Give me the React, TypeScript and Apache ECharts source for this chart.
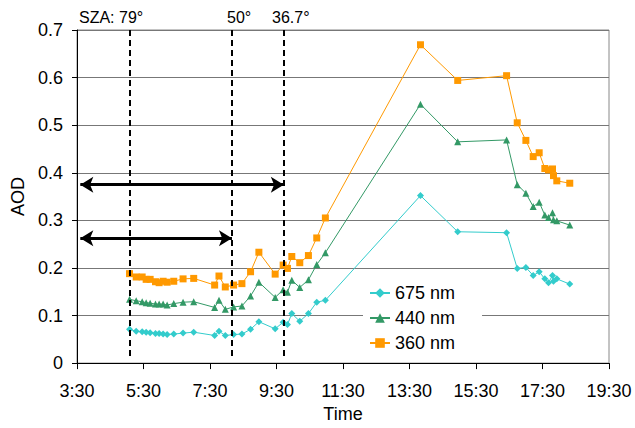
import React, { useEffect, useRef } from "react";
import * as echarts from "echarts";

// Time of day in decimal hours
const TIMES = [5.08, 5.28, 5.46, 5.58, 5.70, 5.86, 5.97, 6.09, 6.21, 6.41, 6.69, 7.01, 7.64, 7.77, 7.96, 8.21, 8.46, 8.72, 8.97, 9.46, 9.70, 9.83, 9.96, 10.20, 10.46, 10.71, 10.97, 13.83, 14.95, 16.42, 16.74, 17.00, 17.22, 17.40, 17.57, 17.68, 17.80, 17.83, 17.93, 18.32];

const AOD_675 = [0.071, 0.067, 0.066, 0.065, 0.064, 0.062, 0.062, 0.061, 0.060, 0.061, 0.063, 0.065, 0.058, 0.067, 0.058, 0.060, 0.061, 0.071, 0.087, 0.072, 0.086, 0.081, 0.104, 0.088, 0.104, 0.128, 0.132, 0.352, 0.276, 0.274, 0.199, 0.201, 0.184, 0.192, 0.177, 0.169, 0.184, 0.172, 0.177, 0.166];
const AOD_440 = [0.134, 0.131, 0.129, 0.127, 0.126, 0.124, 0.124, 0.124, 0.122, 0.125, 0.128, 0.129, 0.117, 0.132, 0.113, 0.118, 0.120, 0.141, 0.170, 0.138, 0.154, 0.149, 0.174, 0.159, 0.175, 0.207, 0.232, 0.544, 0.465, 0.469, 0.375, 0.357, 0.329, 0.338, 0.311, 0.306, 0.316, 0.301, 0.299, 0.290];
const AOD_360 = [0.188, 0.181, 0.181, 0.176, 0.176, 0.171, 0.169, 0.172, 0.170, 0.172, 0.177, 0.178, 0.164, 0.183, 0.160, 0.164, 0.167, 0.192, 0.233, 0.187, 0.206, 0.199, 0.224, 0.211, 0.226, 0.263, 0.305, 0.669, 0.594, 0.604, 0.505, 0.468, 0.434, 0.442, 0.409, 0.406, 0.408, 0.394, 0.383, 0.378];

const SERIES_NAMES = ["675 nm", "440 nm", "360 nm"];

// Solar zenith angle markers
const SZA_TIMES = [5.08, 8.16, 9.72];
const SZA_LABELS = ["SZA: 79°", "50°", "36.7°"];

// Arrows: start time, end time, AOD level
const ARROW_START = 3.6;
const ARROW_ENDS = [9.72, 8.16];
const ARROW_LEVELS = [0.375, 0.2625];

const AXIS_START = 3.5; // 3:30
const X_TICKS = ["3:30", "5:30", "7:30", "9:30", "11:30", "13:30", "15:30", "17:30", "19:30"];

const FONT = "Liberation Sans, Arial, sans-serif";

const rel = (t: number) => t - AXIS_START;

export default function App() {
  const ref = useRef<HTMLDivElement>(null);

  useEffect(() => {
    if (!ref.current) return;
    const chart = echarts.init(ref.current, undefined, { renderer: "svg" });

    const pts = (vals: number[]) => TIMES.map((t, i) => [rel(t), vals[i]]);

    const markLineData: any[] = [];
    SZA_TIMES.forEach((t) => {
      markLineData.push([
        { coord: [rel(t), 0.015], symbol: "none", lineStyle: { color: "#000", width: 2, type: [6, 4] } },
        { coord: [rel(t), 0.7], symbol: "none" },
      ]);
    });
    ARROW_ENDS.forEach((t, i) => {
      markLineData.push([
        { coord: [rel(ARROW_START), ARROW_LEVELS[i]], symbol: "arrow", lineStyle: { color: "#000", width: 3, type: "solid" } },
        { coord: [rel(t), ARROW_LEVELS[i]], symbol: "arrow" },
      ]);
    });

    const option: any = {
      animation: false,
      textStyle: { fontFamily: FONT },
      grid: {
        left: 77,
        right: 26,
        top: 30,
        bottom: 62,
        show: true,
        borderColor: "#888",
        borderWidth: 1,
      },
      legend: {
        data: SERIES_NAMES,
        orient: "vertical",
        left: 363,
        top: 279,
        backgroundColor: "#fff",
        padding: [5, 27, 5, 6],
        itemGap: 7,
        itemWidth: 20,
        itemHeight: 12,
        textStyle: { fontSize: 18, color: "#000", fontFamily: FONT, lineHeight: 18 },
      },
      xAxis: {
        type: "value",
        min: 0,
        max: 16,
        interval: 2,
        name: "Time",
        nameLocation: "middle",
        nameGap: 39,
        nameTextStyle: { fontSize: 18, color: "#000", fontFamily: FONT },
        axisLine: { show: true, lineStyle: { color: "#000", width: 1 } },
        axisTick: { show: true, inside: false, length: 6, lineStyle: { color: "#000" } },
        axisLabel: {
          fontSize: 18,
          color: "#000",
          margin: 19,
          fontFamily: FONT,
          formatter: (v: number) => X_TICKS[Math.round(v / 2)] ?? "",
        },
        splitLine: { show: false },
      },
      yAxis: {
        type: "value",
        min: 0,
        max: 0.7,
        interval: 0.1,
        name: "AOD",
        nameLocation: "middle",
        nameGap: 50,
        nameTextStyle: { fontSize: 18, color: "#000", fontFamily: FONT },
        axisLine: { show: true, lineStyle: { color: "#000", width: 1 } },
        axisTick: { show: true, inside: false, length: 5, lineStyle: { color: "#000" } },
        axisLabel: {
          fontSize: 18,
          color: "#000",
          margin: 14,
          fontFamily: FONT,
          formatter: (v: number) => (Math.round(v * 10) / 10).toString(),
        },
        splitLine: { show: true, lineStyle: { color: "#777", width: 1 } },
      },
      graphic: [
        { type: "text", left: 79, top: 9, style: { text: SZA_LABELS[0], fontSize: 16, fill: "#000", fontFamily: FONT } },
        { type: "text", left: 227, top: 9, style: { text: SZA_LABELS[1], fontSize: 16, fill: "#000", fontFamily: FONT } },
        { type: "text", left: 272, top: 9, style: { text: SZA_LABELS[2], fontSize: 16, fill: "#000", fontFamily: FONT } },
      ],
      series: [
        {
          name: SERIES_NAMES[2],
          type: "line",
          data: pts(AOD_360),
          symbol: "rect",
          symbolSize: 7,
          itemStyle: { color: "#FF9900" },
          lineStyle: { color: "#FF9900", width: 1 },
          z: 3,
        },
        {
          name: SERIES_NAMES[1],
          type: "line",
          data: pts(AOD_440),
          symbol: "triangle",
          symbolSize: 7,
          itemStyle: { color: "#339966" },
          lineStyle: { color: "#339966", width: 1 },
          z: 3,
        },
        {
          name: SERIES_NAMES[0],
          type: "line",
          data: pts(AOD_675),
          symbol: "diamond",
          symbolSize: 7,
          itemStyle: { color: "#33CCCC" },
          lineStyle: { color: "#33CCCC", width: 1 },
          z: 3,
          markLine: {
            silent: true,
            symbolSize: [12, 13],
            label: { show: false },
            emphasis: { disabled: true },
            data: markLineData,
          },
        },
      ],
    };

    chart.setOption(option);
    return () => chart.dispose();
  }, []);

  return <div ref={ref} style={{ position: "absolute", left: 0, top: 0, width: 635, height: 428 }} />;
}
